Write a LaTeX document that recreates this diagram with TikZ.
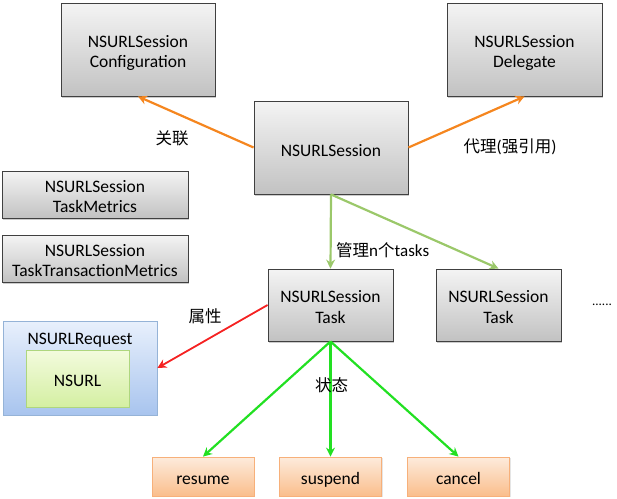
\documentclass[tikz,border=0pt]{standalone}
\usepackage{fontspec}
\setmainfont{Carlito}
\newfontfamily\cjk{Noto Sans CJK SC}
\usetikzlibrary{arrows.meta,shadows}
\definecolor{orangeline}{HTML}{F5861F}
\definecolor{oliveline}{HTML}{9BC86A}
\definecolor{brightgreen}{HTML}{22E022}
\definecolor{redline}{HTML}{F52222}
\definecolor{graytop}{HTML}{F4F4F4}
\definecolor{graybot}{HTML}{C2C2C2}
\definecolor{grayborder}{HTML}{404040}
\definecolor{orangetop}{HTML}{FDEBDC}
\definecolor{orangebot}{HTML}{FABE8C}
\definecolor{orangeborder}{HTML}{F7B07A}
\definecolor{bluetop}{HTML}{E8F0FC}
\definecolor{bluebot}{HTML}{A8C4EE}
\definecolor{blueborder}{HTML}{95B3D7}
\definecolor{greentop}{HTML}{F3FBDE}
\definecolor{greenbot}{HTML}{D4EFA2}
\definecolor{greenborder}{HTML}{AED67E}
\tikzset{
  txt/.style={font=\fontsize{17.5}{20.5}\selectfont},
  graybox/.style={txt, draw=grayborder, line width=0.9pt, top color=graytop, bottom color=graybot,
    drop shadow={shadow xshift=1.2pt, shadow yshift=-1.5pt, fill=black!40, opacity=0.5},
    inner sep=0pt},
  orangebox/.style={txt, draw=orangeborder, line width=0.8pt, top color=orangetop, bottom color=orangebot,
    drop shadow={shadow xshift=1pt, shadow yshift=-1pt, fill=black!25, opacity=0.4},
    inner sep=0pt, minimum width=102pt, minimum height=39pt},
  bluebox/.style={draw=blueborder, line width=0.8pt, top color=bluetop, bottom color=bluebot,
    drop shadow={shadow xshift=1pt, shadow yshift=-1pt, fill=black!25, opacity=0.4},
    inner sep=0pt},
  greenbox/.style={txt, draw=greenborder, line width=0.8pt, top color=greentop, bottom color=greenbot,
    drop shadow={shadow xshift=1pt, shadow yshift=-1pt, fill=black!25, opacity=0.4},
    inner sep=0pt},
  arr/.style={line width=2.2pt, -{Stealth[length=9pt,width=9pt,inset=3pt]}},
  lbl/.style={font=\cjk\fontsize{16.5}{19}\selectfont, inner sep=0pt},
}
\newcommand{\lat}[1]{{\fontspec{Carlito}\fontsize{17}{19}\selectfont #1}}
\newcommand{\bx}[2][8pt]{\raisebox{-#1}[0pt][0pt]{\begin{tabular}{@{}c@{}}#2\end{tabular}}}
\begin{document}
\begin{tikzpicture}[x=1pt,y=-1pt]
\useasboundingbox (0,0) rectangle (617,498);
\node[graybox, minimum width=154pt, minimum height=93pt] (config) at (138,49.5) {\bx{NSURLSession\\Configuration}};
\node[graybox, minimum width=155pt, minimum height=93pt] (delegate) at (524.5,49.5) {\bx{NSURLSession\\Delegate}};
\node[graybox, minimum width=154pt, minimum height=93pt] (session) at (331,147.5) {\bx[9pt]{NSURLSession}};
\node[graybox, minimum width=186pt, minimum height=47pt] (metrics) at (95,194.5) {\bx{NSURLSession\\TaskMetrics}};
\node[graybox, minimum width=186pt, minimum height=47pt] (tmetrics) at (95,258.5) {\bx{NSURLSession\\TaskTransactionMetrics}};
\node[graybox, minimum width=125pt, minimum height=72pt] (task1) at (330.5,305) {\bx{NSURLSession\\Task}};
\node[graybox, minimum width=125pt, minimum height=72pt] (task2) at (498.5,305) {\bx{NSURLSession\\Task}};
\node[bluebox, minimum width=154pt, minimum height=94pt] (request) at (80,368) {};
\node[txt, inner sep=0pt] (reqlabel) at (80,340) {NSURLRequest};
\node[greenbox, minimum width=103pt, minimum height=57pt] (nsurl) at (77.5,378.5) {\bx[8pt]{NSURL}};
\node[orangebox] (resume) at (203,476.5) {\bx[8.5pt]{resume}};
\node[orangebox] (suspend) at (330.5,476.5) {\bx[8.5pt]{suspend}};
\node[orangebox] (cancel) at (458.5,476.5) {\bx[8.5pt]{cancel}};
\node[font=\fontsize{13}{15}\selectfont, inner sep=0pt] (dots) at (602,305) {......};

\draw[arr, orangeline] (session.west) -- (config.south);
\draw[arr, orangeline] (session.east) -- (delegate.south);
\draw[arr, oliveline] (session.south) -- (task1.north);
\draw[arr, oliveline] (session.south) -- (task2.north);
\draw[arr, redline, line width=1.8pt] (task1.west) -- (request.east);
\draw[arr, brightgreen] (task1.south) -- (resume.north);
\draw[arr, brightgreen] (task1.south) -- (suspend.north);
\draw[arr, brightgreen] (task1.south) -- (cancel.north);

\node[lbl] (l1) at (172,138) {关联};
\node[lbl] (l2) at (510,147) {代理\lat{(}强引用\lat{)}};
\node[lbl, anchor=west] (l3) at (336,250) {管理\lat{n}个\lat{tasks}};
\node[lbl] (l4) at (205,316) {属性};
\node[lbl] (l5) at (331.5,385) {状态};
\end{tikzpicture}
\end{document}
